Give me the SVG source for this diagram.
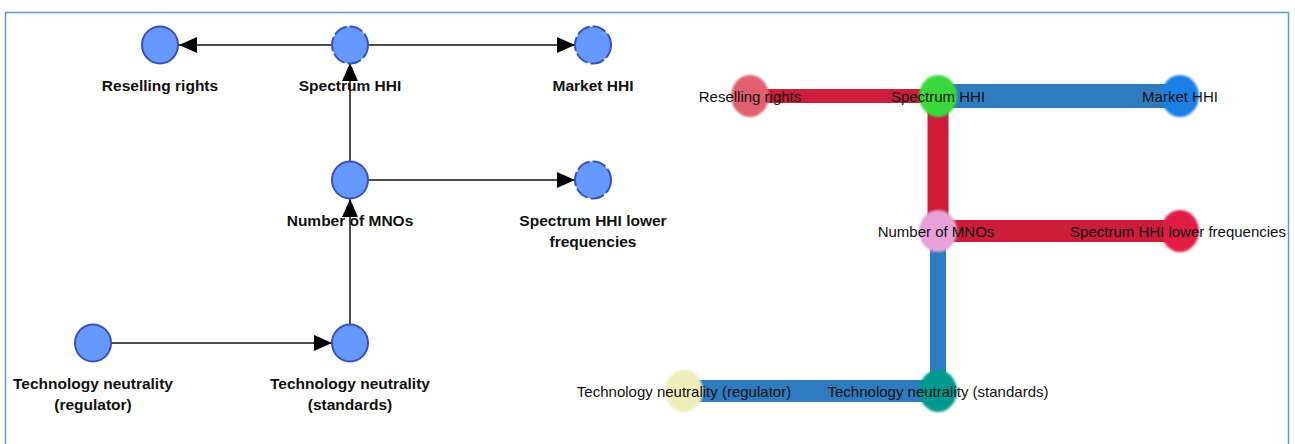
<svg xmlns="http://www.w3.org/2000/svg" width="1295" height="444" viewBox="0 0 1295 444">
<style>
.lbl{font-family:"Liberation Sans",Arial,sans-serif;font-size:15.5px;font-weight:bold;fill:#111;text-anchor:middle}
.rl{font-family:"Liberation Sans",Arial,sans-serif;font-size:15px;fill:#111;text-anchor:middle}
.n{fill:#6699ff;stroke:#3a4fbf;stroke-width:2}
.d{stroke-dasharray:14 3}
.e{stroke:#111;stroke-width:1.5;fill:none;marker-end:url(#ah)}
.red{stroke:#cc1d3a;fill:none}
.blue{stroke:#2e7bc0;fill:none}
.rn{filter:url(#soft)}
</style>
<defs>
<marker id="ah" viewBox="0 0 18 16" refX="18" refY="8" markerWidth="18" markerHeight="16" markerUnits="userSpaceOnUse" orient="auto">
<path d="M0,0 L18,8 L0,16 Z" fill="#000"/>
</marker>
<filter id="soft" x="-30%" y="-30%" width="160%" height="160%"><feGaussianBlur stdDeviation="1.2"/></filter>
</defs>
<rect x="5.5" y="12.5" width="1283" height="440" fill="#fff" stroke="#5b9bd5" stroke-width="1.5"/>

<g id="left-connectors">
<line class="e" x1="332" y1="45" x2="179" y2="45"/>
<line class="e" x1="368" y1="45" x2="575" y2="45"/>
<line class="e" x1="350" y1="162" x2="350" y2="63"/>
<line class="e" x1="368" y1="180" x2="575" y2="180"/>
<line class="e" x1="350" y1="325" x2="350" y2="199"/>
<line class="e" x1="111" y1="343" x2="332" y2="343"/>
</g>

<g id="l-reselling"><ellipse class="n" cx="160" cy="45" rx="18" ry="18.5"/><text class="lbl" x="160" y="91">Reselling rights</text></g>
<g id="l-spectrum"><ellipse class="n d" cx="350" cy="45" rx="18" ry="18.5"/><text class="lbl" x="350" y="91">Spectrum HHI</text></g>
<g id="l-market"><ellipse class="n d" cx="593" cy="45" rx="18" ry="18.5"/><text class="lbl" x="593" y="91">Market HHI</text></g>
<g id="l-mnos"><ellipse class="n" cx="350" cy="180" rx="18" ry="18.5"/><text class="lbl" x="350" y="226">Number of MNOs</text></g>
<g id="l-lowfreq"><ellipse class="n d" cx="593" cy="180" rx="18" ry="18.5"/><text class="lbl" x="593" y="226">Spectrum HHI lower</text><text class="lbl" x="593" y="247">frequencies</text></g>
<g id="l-techreg"><ellipse class="n" cx="93" cy="343" rx="18" ry="18.5"/><text class="lbl" x="93" y="389">Technology neutrality</text><text class="lbl" x="93" y="410">(regulator)</text></g>
<g id="l-techstd"><ellipse class="n" cx="350" cy="343" rx="18" ry="18.5"/><text class="lbl" x="350" y="389">Technology neutrality</text><text class="lbl" x="350" y="410">(standards)</text></g>

<g id="right-connectors">
<line class="red" x1="750" y1="96" x2="938" y2="96" stroke-width="14"/>
<line class="blue" x1="938" y1="96" x2="1180" y2="96" stroke-width="24"/>
<line class="red" x1="938" y1="96" x2="938" y2="231" stroke-width="21"/>
<line class="red" x1="938" y1="231" x2="1180" y2="231" stroke-width="22"/>
<line class="blue" x1="938" y1="231" x2="938" y2="391" stroke-width="16"/>
<line class="blue" x1="684" y1="391" x2="938" y2="391" stroke-width="22"/>
</g>

<g id="r-reselling"><ellipse class="rn" cx="750" cy="96" rx="19" ry="21" fill="#e0606e"/><text class="rl" x="750" y="101.5">Reselling rights</text></g>
<g id="r-spectrum"><ellipse class="rn" cx="938" cy="96" rx="19" ry="21" fill="#3ad83a"/><text class="rl" x="938" y="101.5">Spectrum HHI</text></g>
<g id="r-market"><ellipse class="rn" cx="1180" cy="96" rx="19" ry="21" fill="#1a7fe6"/><text class="rl" x="1180" y="101.5">Market HHI</text></g>
<g id="r-mnos"><ellipse class="rn" cx="938" cy="231" rx="19" ry="21" fill="#e6a2d8"/><text class="rl" x="936" y="236.5">Number of MNOs</text></g>
<g id="r-lowfreq"><ellipse class="rn" cx="1180" cy="231" rx="19" ry="21" fill="#e01c44"/><text class="rl" x="1178" y="236.5">Spectrum HHI lower frequencies</text></g>
<g id="r-techreg"><ellipse class="rn" cx="684" cy="391" rx="19" ry="21" fill="#eeeebb"/><text class="rl" x="684" y="396.5">Technology neutrality (regulator)</text></g>
<g id="r-techstd"><ellipse class="rn" cx="938" cy="391" rx="19" ry="21" fill="#00998f"/><text class="rl" x="938" y="396.5">Technology neutrality (standards)</text></g>
</svg>
